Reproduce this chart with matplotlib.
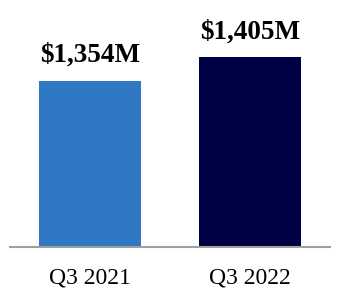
import matplotlib.pyplot as plt

quarters = ["Q3 2021", "Q3 2022"]
revenue = [1354, 1405]
bar_colors = ["#2F78C4", "#000045"]

plt.rcParams['font.family'] = ['Liberation Serif', 'DejaVu Serif']

fig = plt.figure(figsize=(3.4, 3.0), dpi=100)
ax = fig.add_axes([10 / 340, 0.178, 320 / 340, 0.822])

x = range(len(quarters))
bars = ax.bar(x, revenue, width=0.64, color=bar_colors, bottom=0)

# value labels above the bars
for b, v in zip(bars, revenue):
    ax.annotate(f"${v:,}M", (b.get_x() + b.get_width() / 2, v),
                xytext=(0, 9), textcoords='offset points',
                ha='center', va='bottom', fontsize=19.5, fontweight='bold')

ax.set_ylim(1000, 1526)
ax.set_xlim(-0.5, 1.5)
ax.set_xticks(list(x))
ax.set_xticklabels(quarters, fontsize=17)
ax.tick_params(axis='x', length=0, pad=15)
ax.set_yticks([])
for s in ['top', 'right', 'left']:
    ax.spines[s].set_visible(False)
ax.spines['bottom'].set_color('#A0A0A0')
ax.spines['bottom'].set_linewidth(1.5)
ax.patch.set_alpha(0)

fig.savefig("out.png", dpi=100)
